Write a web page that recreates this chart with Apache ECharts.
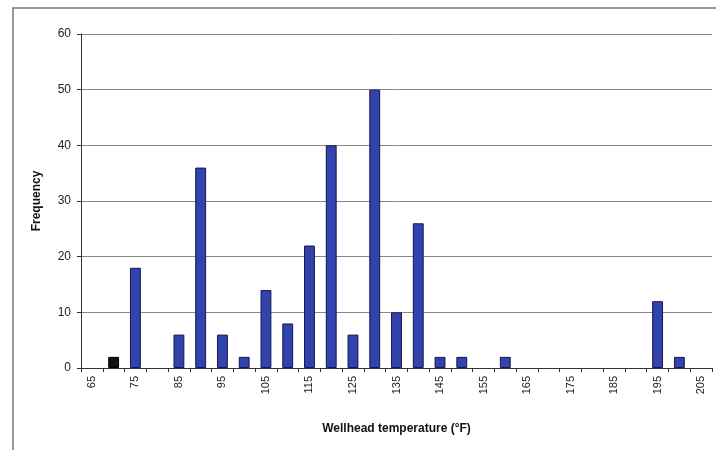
<!DOCTYPE html>
<html>
<head>
<meta charset="utf-8">
<script src="https://cdn.jsdelivr.net/npm/echarts@6/dist/echarts.min.js"></script>
<style>
  html, body { margin: 0; padding: 0; background: #fff; }
  #chart { width: 716px; height: 450px; }
</style>
</head>
<body>
<div id="chart"></div>
<script>
// temperature bins (°F) and counts
const temps = ["65", "70", "75", "80", "85", "90", "95", "100", "105", "110", "115",
  "120", "125", "130", "135", "140", "145", "150", "155", "160", "165", "170",
  "175", "180", "185", "190", "195", "200", "205"];
const counts = [0, 2, 18, 0, 6, 36, 6, 2, 14, 8, 22, 40, 6, 50, 10, 26, 2, 2, 0, 2,
  0, 0, 0, 0, 0, 0, 12, 2, 0];
const yTicks = [0, 60, 10]; // min, max, interval

const BLUE = "#3343ad";
const chart = echarts.init(document.getElementById("chart"), null, { renderer: "canvas" });

chart.setOption({
  animation: false,
  backgroundColor: "#fff",
  textStyle: { fontFamily: "Liberation Sans, Arial, sans-serif" },
  grid: { left: 81, right: 4, top: 34, bottom: 82 },
  graphic: [{
    type: "rect",
    shape: { x: 13, y: 8, width: 720, height: 460 },
    style: { fill: "none", stroke: "#777", lineWidth: 1.5 },
    silent: true
  }],
  xAxis: {
    type: "category",
    data: temps,
    name: "Wellhead temperature (°F)",
    nameLocation: "middle",
    nameGap: 55,
    nameTextStyle: { fontSize: 12, fontWeight: "bold", color: "#111" },
    axisLine: { lineStyle: { color: "#333", width: 1 } },
    axisTick: { show: true, interval: 0, length: 4, lineStyle: { color: "#333" } },
    axisLabel: { interval: 1, rotate: 90, fontSize: 11, color: "#222", margin: 8 },
    splitLine: { show: false }
  },
  yAxis: {
    type: "value",
    min: yTicks[0],
    max: yTicks[1],
    interval: yTicks[2],
    name: "Frequency",
    nameLocation: "middle",
    nameGap: 38,
    nameTextStyle: { fontSize: 12, fontWeight: "bold", color: "#111" },
    axisLine: { show: true, lineStyle: { color: "#333", width: 1 } },
    axisTick: { show: true, length: 4, lineStyle: { color: "#333" } },
    axisLabel: { fontSize: 12, color: "#222", margin: 10 },
    splitLine: { lineStyle: { color: "#888", width: 1 } }
  },
  series: [{
    type: "bar",
    data: counts.map((v, i) => {
      if (v === 0) return { value: v, itemStyle: { borderWidth: 0, opacity: 0 } };
      if (temps[i] === "70") return { value: v, itemStyle: { color: "#111", borderColor: "#000" } };
      return v;
    }),
    barWidth: "50%",
    itemStyle: { color: BLUE, borderColor: "#161650", borderWidth: 1 }
  }]
});
</script>
</body>
</html>
